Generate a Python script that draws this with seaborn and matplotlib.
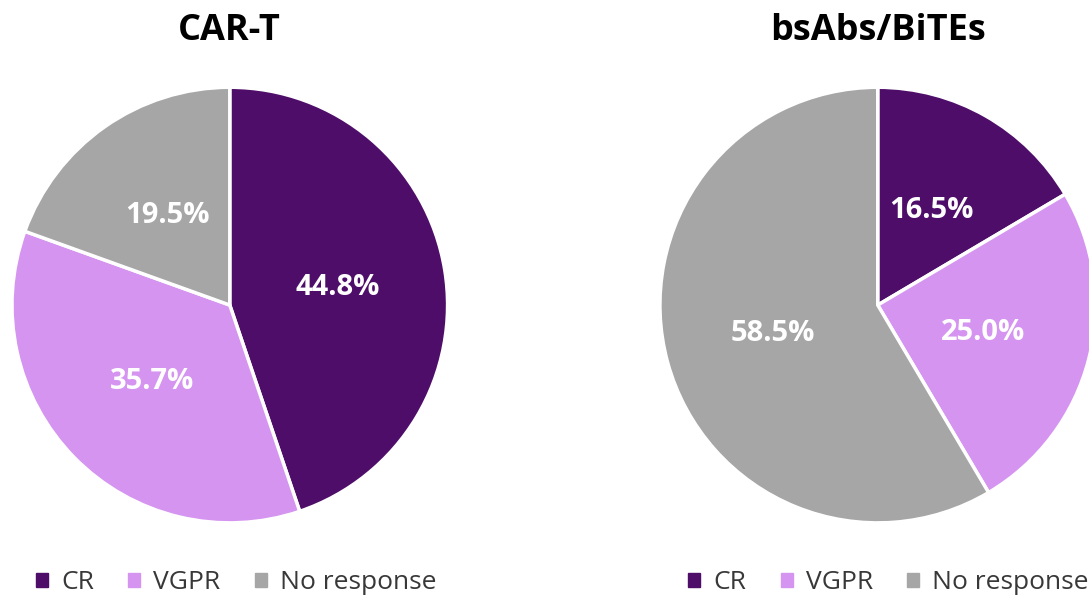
import matplotlib
matplotlib.use("Agg")
import matplotlib.pyplot as plt
import matplotlib.patches as mpatches
import seaborn as sns

categorias = ["CR", "VGPR", "No response"]
titulos = ["CAR-T", "bsAbs/BiTEs"]
valores_cart = [44.8, 35.7, 19.5]
valores_bsabs = [16.5, 25.0, 58.5]
colores = ["#4f0d6a", "#d494f0", "#a6a6a6"]

sns.set_theme(style="white")
plt.rcParams["font.family"] = ["Open Sans", "DejaVu Sans"]
paleta = sns.color_palette(colores)

fig = plt.figure(figsize=(10.89, 5.97), dpi=100)
posiciones = [[0.011, 0.124, 0.400, 0.730], [0.606, 0.124, 0.400, 0.730]]
legend_x = [0.217, 0.816]


def torta(ax, valores, titulo):
    wedges, textos, autotextos = ax.pie(
        valores, colors=paleta, startangle=90, counterclock=False,
        autopct="%.1f%%", pctdistance=0.5,
        wedgeprops=dict(edgecolor="white", linewidth=2.5))
    for t in autotextos:
        t.set_color("white")
        t.set_fontsize(21)
        t.set_fontweight("bold")
    ax.set_xlim(-1, 1)
    ax.set_ylim(-1, 1)
    ax.set_aspect("equal")
    ax.axis("off")
    ax.text(0, 1.26, titulo, ha="center", va="center", fontsize=26,
            fontweight="bold", color="black")


for pos, valores, titulo, lx in zip(posiciones, [valores_cart, valores_bsabs], titulos, legend_x):
    ax = fig.add_axes(pos)
    torta(ax, valores, titulo)
    handles = [mpatches.Patch(color=c, label=l) for c, l in zip(paleta, categorias)]
    fig.legend(handles=handles, loc="center", bbox_to_anchor=(lx, 0.024),
               ncol=3, frameon=False, fontsize=19, handlelength=0.45,
               handleheight=0.45, handletextpad=0.5, columnspacing=1.3,
               labelcolor="#383838")

plt.savefig("out.png", dpi=100)
plt.close()
